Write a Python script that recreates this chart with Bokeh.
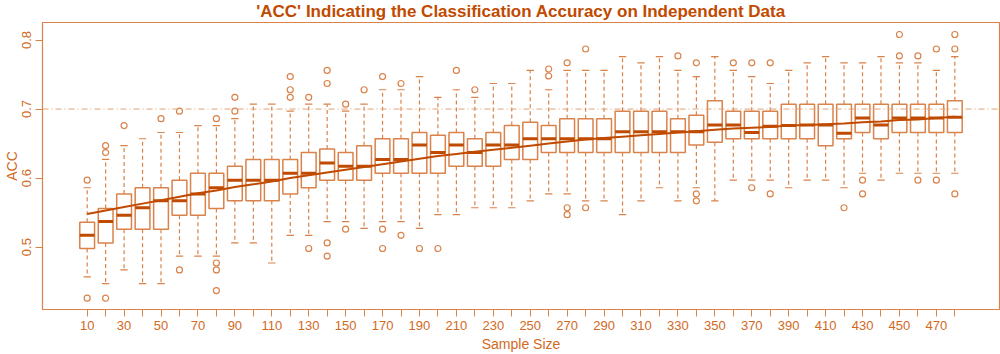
from bokeh.plotting import figure
from bokeh.models import Range1d, FixedTicker, Span, ColumnDataSource
from bokeh.embed import file_html
from bokeh.resources import INLINE

# ---------------- data ----------------
sample_sizes = [10, 20, 30, 40, 50, 60, 70, 80, 90, 100, 110, 120, 130, 140, 150, 160,
                170, 180, 190, 200, 210, 220, 230, 240, 250, 260, 270, 280, 290, 300, 310, 320,
                330, 340, 350, 360, 370, 380, 390, 400, 410, 420, 430, 440, 450, 460, 470, 480]

whisker_low = [0.457, 0.447, 0.467, 0.447, 0.447, 0.487, 0.487, 0.487, 0.506, 0.506, 0.477, 0.517,
               0.517, 0.537, 0.537, 0.527, 0.537, 0.537, 0.527, 0.547, 0.547, 0.557, 0.557, 0.557,
               0.567, 0.577, 0.577, 0.567, 0.567, 0.547, 0.567, 0.586, 0.567, 0.586, 0.567, 0.597,
               0.597, 0.597, 0.586, 0.597, 0.597, 0.586, 0.607, 0.597, 0.607, 0.607, 0.607, 0.607]
q1 = [0.498, 0.506, 0.526, 0.526, 0.526, 0.546, 0.546, 0.556, 0.567, 0.567, 0.567, 0.577,
      0.586, 0.597, 0.597, 0.597, 0.607, 0.607, 0.607, 0.607, 0.617, 0.617, 0.617, 0.627,
      0.627, 0.637, 0.637, 0.637, 0.637, 0.637, 0.637, 0.637, 0.637, 0.648, 0.652, 0.657,
      0.657, 0.657, 0.657, 0.657, 0.647, 0.657, 0.666, 0.657, 0.666, 0.666, 0.666, 0.666]
median = [0.517, 0.537, 0.546, 0.557, 0.567, 0.567, 0.577, 0.586, 0.597, 0.597, 0.597, 0.607,
          0.607, 0.622, 0.617, 0.617, 0.627, 0.627, 0.648, 0.637, 0.648, 0.637, 0.648, 0.648,
          0.657, 0.657, 0.657, 0.657, 0.657, 0.667, 0.667, 0.667, 0.667, 0.667, 0.677, 0.677,
          0.666, 0.675, 0.676, 0.677, 0.677, 0.665, 0.687, 0.677, 0.687, 0.687, 0.687, 0.688]
q3 = [0.536, 0.556, 0.577, 0.586, 0.586, 0.597, 0.607, 0.607, 0.617, 0.627, 0.627, 0.627,
      0.637, 0.642, 0.637, 0.647, 0.657, 0.657, 0.666, 0.662, 0.666, 0.657, 0.666, 0.676,
      0.681, 0.676, 0.686, 0.686, 0.686, 0.697, 0.697, 0.697, 0.686, 0.691, 0.712, 0.697,
      0.697, 0.697, 0.707, 0.707, 0.707, 0.707, 0.707, 0.707, 0.707, 0.707, 0.707, 0.712]
whisker_high = [0.586, 0.627, 0.647, 0.657, 0.666, 0.666, 0.676, 0.676, 0.686, 0.707, 0.707, 0.697,
                0.707, 0.707, 0.697, 0.707, 0.728, 0.728, 0.747, 0.717, 0.728, 0.717, 0.737, 0.737,
                0.756, 0.728, 0.756, 0.756, 0.756, 0.776, 0.767, 0.776, 0.756, 0.747, 0.776, 0.756,
                0.747, 0.737, 0.756, 0.767, 0.776, 0.767, 0.767, 0.776, 0.767, 0.767, 0.756, 0.776]
outliers = [
    [0.597, 0.426], [0.647, 0.637, 0.426], [0.676], [], [0.686], [0.697, 0.467], [],
    [0.686, 0.477, 0.467, 0.437], [0.717, 0.697], [], [], [0.747, 0.728, 0.717],
    [0.717, 0.498], [0.756, 0.737, 0.506, 0.487], [0.707, 0.526], [0.728],
    [0.747, 0.526, 0.498], [0.737, 0.517], [0.498], [0.498], [0.756], [0.728], [], [],
    [], [0.758, 0.748], [0.767, 0.557, 0.547], [0.787, 0.557], [], [], [], [],
    [0.777], [0.767, 0.577, 0.567], [], [0.767], [0.767, 0.586], [0.767, 0.577], [], [],
    [], [0.557], [0.597, 0.577], [], [0.808, 0.777], [0.777, 0.597], [0.787, 0.597],
    [0.808, 0.787, 0.577]]
trend = [0.548, 0.553, 0.558, 0.563, 0.568, 0.573, 0.578, 0.582, 0.587, 0.591, 0.595, 0.600,
         0.604, 0.608, 0.612, 0.616, 0.620, 0.624, 0.628, 0.632, 0.635, 0.638, 0.641, 0.644,
         0.647, 0.650, 0.653, 0.656, 0.658, 0.660, 0.662, 0.664, 0.666, 0.668, 0.670, 0.672,
         0.673, 0.674, 0.676, 0.677, 0.678, 0.679, 0.681, 0.682, 0.684, 0.685, 0.687, 0.689]
reference_acc = 0.7
y_ticks = [0.5, 0.6, 0.7, 0.8]

# ---------------- styles ----------------
BOX = "#D9824A"
DARK = "#C04A00"
TXT = "#D2691E"
FONT = "Liberation Sans"

pos = list(range(1, len(sample_sizes) + 1))
src = ColumnDataSource(dict(
    x=pos,
    left=[p_ - 0.4 for p_ in pos], right=[p_ + 0.4 for p_ in pos],
    sl=[p_ - 0.2 for p_ in pos], sr=[p_ + 0.2 for p_ in pos],
    wlo=whisker_low, q1=q1, med=median, q3=q3, whi=whisker_high, trend=trend))

ox, oy = [], []
for i, outs in enumerate(outliers):
    for v in outs:
        ox.append(pos[i])
        oy.append(v)

p = figure(width=1000, height=354, output_backend="svg", toolbar_location=None,
           x_range=Range1d(-1.42, 50.42), y_range=Range1d(0.4096, 0.8254),
           min_border_left=41, min_border_right=1, min_border_top=22, min_border_bottom=45)
p.grid.visible = False
p.outline_line_color = BOX
p.outline_line_width = 1.2

# whiskers
p.segment(x0="x", y0="q3", x1="x", y1="whi", source=src, line_color=BOX, line_width=1.2, line_dash="4 3")
p.segment(x0="x", y0="q1", x1="x", y1="wlo", source=src, line_color=BOX, line_width=1.2, line_dash="4 3")
p.segment(x0="sl", y0="whi", x1="sr", y1="whi", source=src, line_color=BOX, line_width=1.2)
p.segment(x0="sl", y0="wlo", x1="sr", y1="wlo", source=src, line_color=BOX, line_width=1.2)
# boxes
p.quad(left="left", right="right", bottom="q1", top="q3", source=src,
       fill_color="white", line_color=BOX, line_width=1.5)
# medians
p.segment(x0="left", y0="med", x1="right", y1="med", source=src, line_color=DARK, line_width=3)
# outliers
p.scatter(ox, oy, marker="circle", size=6, fill_color=None, line_color=BOX, line_width=1.2)
# reference line
p.add_layout(Span(location=reference_acc, dimension="width", line_color="#E2A277",
                  line_width=1, line_dash="6 3 1 3"))
# trend
p.line(x="x", y="trend", source=src, line_color=DARK, line_width=2)

# title
p.title.text = "'ACC' Indicating the Classification Accuracy on Independent Data"
p.title.align = "center"
p.title.vertical_align = "top"
p.title.text_font = FONT
p.title.text_font_size = "17px"
p.title.text_font_style = "bold"
p.title.text_color = DARK
p.title.standoff = 0
p.title.text_line_height = 0.85

# axes
xa = p.xaxis[0]
xa.ticker = FixedTicker(ticks=pos)
xa.major_label_overrides = {pos[i]: (str(s) if i % 2 == 0 else "") for i, s in enumerate(sample_sizes)}
xa.axis_label = "Sample Size"
ya = p.yaxis[0]
ya.ticker = FixedTicker(ticks=y_ticks)
ya.axis_label = "ACC"
ya.major_label_orientation = "vertical"

for ax in (xa, ya):
    ax.axis_line_color = None
    ax.major_tick_line_color = BOX
    ax.major_tick_out = 7
    ax.major_tick_in = 0
    ax.minor_tick_line_color = None
    ax.major_label_text_font = FONT
    ax.major_label_text_font_size = "13px"
    ax.major_label_text_color = TXT
    ax.axis_label_text_font = FONT
    ax.axis_label_text_font_size = "14px"
    ax.axis_label_text_font_style = "normal"
    ax.axis_label_text_color = TXT
xa.major_label_standoff = 4
xa.axis_label_standoff = 3
ya.major_label_text_line_height = 0.8
ya.axis_label_text_line_height = 0.8
ya.major_label_standoff = 4
ya.axis_label_standoff = 0

open("out.html", "w").write(file_html(p, INLINE))
